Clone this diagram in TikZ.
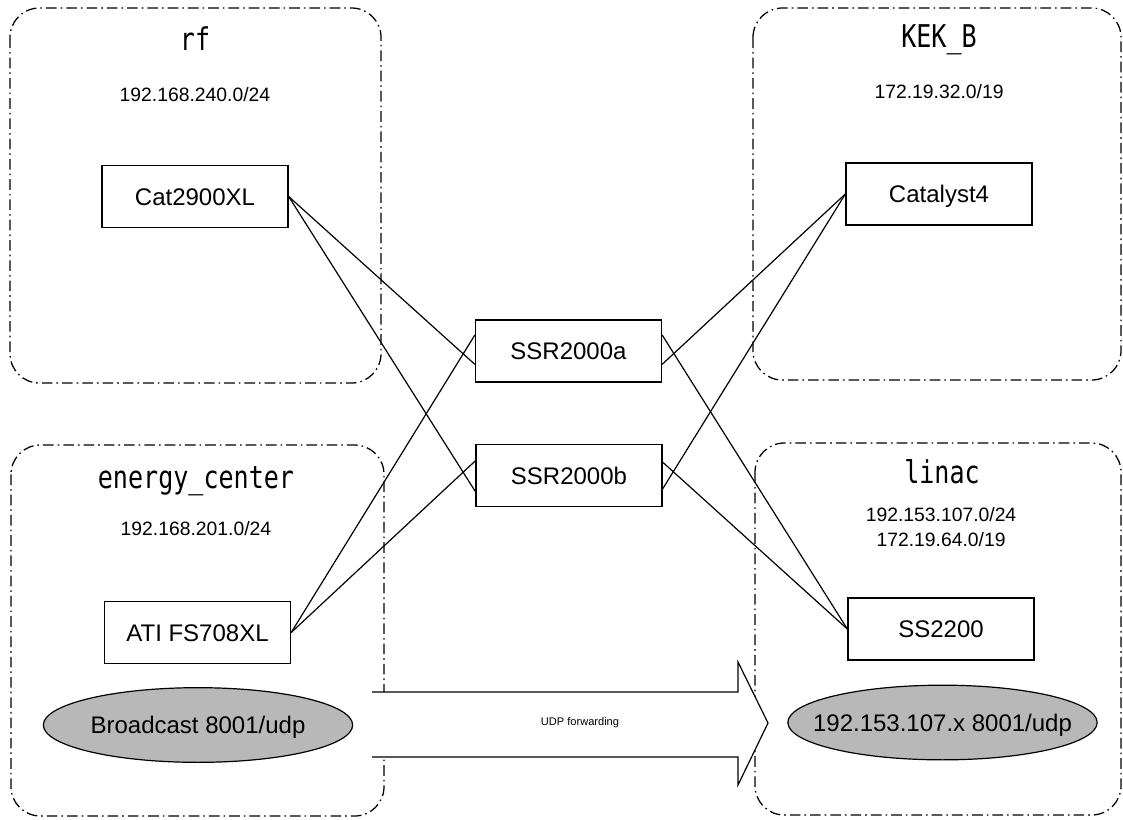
\documentclass[tikz,border=0pt]{standalone}
\usepackage{fontspec}
\setmainfont{Liberation Sans}
\newfontfamily\titlefont{DejaVu Sans Mono}
\usetikzlibrary{shapes.geometric,calc}
\newcommand\mytitle[1]{\scalebox{0.8}[1]{#1}}
\begin{document}
\begin{tikzpicture}[x=0.75pt,y=-0.75pt,
  region/.style={line width=0.95pt, dash pattern=on 8pt off 3pt on 1.2pt off 3pt, rounded corners=22pt},
  dev/.style={draw, line width=1pt, minimum width=139.5pt, minimum height=46.5pt, inner sep=0pt, text height=12.9pt, text depth=0pt, font=\fontsize{18}{20}\selectfont},
  title/.style={font=\titlefont\fontsize{23.5}{26}\selectfont, anchor=base, inner sep=0pt},
  subnet/.style={font=\fontsize{14.5}{18.75}\selectfont, align=center, inner sep=0pt},
  cast/.style={ellipse, draw, line width=0.9pt, fill=black!28, minimum width=232pt, minimum height=56pt, inner sep=0pt, text height=12.9pt, text depth=0pt, font=\fontsize{18}{20}\selectfont},
  link/.style={line width=0.9pt},
  arrowline/.style={line width=0.9pt, line join=miter}]
\useasboundingbox (0,0) rectangle (1123,819);

% regions
\draw[region] (10,8) rectangle (381,383);
\draw[region] (753,8) rectangle (1121,380);
\draw[region] (11,445) rectangle (384,816);
\draw[region] (755,443) rectangle (1121,815);

% forwarding arrow
\coordinate (a1) at (372,692);
\coordinate (a2) at (738,692);
\coordinate (a3) at (738,662);
\coordinate (a4) at (768,723);
\coordinate (a5) at (738,785);
\coordinate (a6) at (738,757);
\coordinate (a7) at (372,757);
\fill[white] (a1) -- (a2) -- (a3) -- (a4) -- (a5) -- (a6) -- (a7) -- cycle;
\draw[arrowline] (a1) -- (a2) -- (a3) -- (a4) -- (a5) -- (a6) -- (a7);
\node[font=\fontsize{8.3}{10}\selectfont] (fwd) at (580,723) {UDP forwarding};

% titles and subnets
\node[title] (trf) at (195,50) {\mytitle{rf}};
\node[subnet] (srf) at (195,95) {192.168.240.0/24};
\node[title] (tkek) at (939,47) {\mytitle{KEK\_B}};
\node[subnet] (skek) at (939,92) {172.19.32.0/19};
\node[title] (tec) at (196,488) {\mytitle{energy\_center}};
\node[subnet] (sec) at (196,529) {192.168.201.0/24};
\node[title] (tlin) at (942,483) {\mytitle{linac}};
\node[subnet] (slin) at (941,527.5) {192.153.107.0/24\\172.19.64.0/19};

% devices
\node[dev] (cat) at (195,196.5) {Cat2900XL};
\node[dev] (catalyst) at (939,194) {Catalyst4};
\node[dev] (ssra) at (568.5,351) {SSR2000a};
\node[dev] (ssrb) at (569,475.5) {SSR2000b};
\node[dev] (ati) at (197.5,632.5) {ATI FS708XL};
\node[dev] (ss) at (941,629) {SS2200};

% broadcast ellipses
\node[cast] (bc) at (198,725) {\makebox[0pt]{Broadcast 8001/udp}};
\node[cast] (lc) at (942.5,722.5) {\makebox[0pt]{192.153.107.x 8001/udp}};

% links
\draw[link] (cat.east) -- ([yshift=-10pt]ssra.west);
\draw[link] (cat.east) -- ([yshift=-12pt]ssrb.west);
\draw[link] (ati.east) -- ([yshift=12pt]ssra.west);
\draw[link] (ati.east) -- ([yshift=11pt]ssrb.west);
\draw[link] (catalyst.west) -- ([yshift=-10pt]ssra.east);
\draw[link] (catalyst.west) -- ([yshift=-10pt]ssrb.east);
\draw[link] (ss.west) -- ([yshift=12pt]ssra.east);
\draw[link] (ss.west) -- ([yshift=10pt]ssrb.east);
\end{tikzpicture}
\end{document}
